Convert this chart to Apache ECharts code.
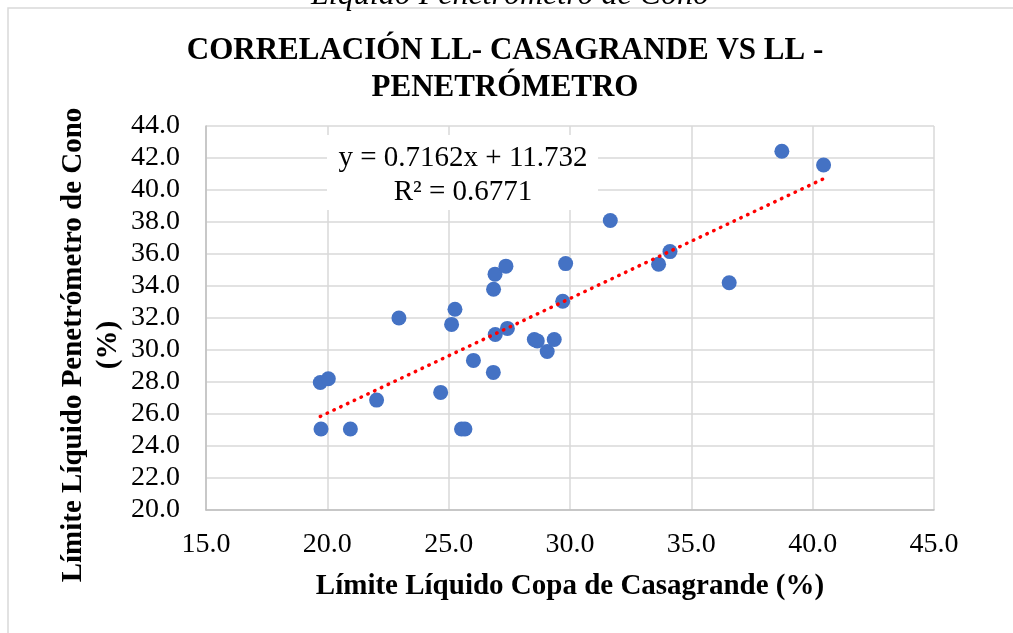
<!DOCTYPE html>
<html>
<head>
<meta charset="utf-8">
<title>Correlación LL Casagrande vs Penetrómetro</title>
<script src="https://cdn.jsdelivr.net/npm/echarts@6/dist/echarts.min.js"></script>
<style>
  html, body { margin: 0; padding: 0; background: #fff; }
  #chart { width: 1013px; height: 633px; }
</style>
</head>
<body>
<div id="chart"></div>
<script>
// LL Casagrande (%) por muestra
const llCasagrande = [
  19.74, 19.71, 20.04, 20.95, 22.03, 22.95, 24.67, 25.12, 25.26, 25.53,
  25.67, 26.02, 26.84, 26.85, 26.91, 26.92, 27.36, 27.42, 28.53, 28.65,
  29.06, 29.35, 29.70, 29.82, 31.66, 33.65, 34.12, 36.56, 38.73, 40.45
];
// LL penetrómetro de cono (%) por muestra
const llPenetrometro = [
  25.06, 27.97, 28.20, 25.06, 26.87, 32.00, 27.35, 31.60, 32.55, 25.06,
  25.06, 29.35, 28.60, 33.80, 34.74, 30.97, 35.24, 31.35, 30.66, 30.57,
  29.91, 30.66, 33.05, 35.40, 38.09, 35.36, 36.15, 34.20, 42.42, 41.56
];
// recta de tendencia de Excel
const slope = 0.7162;
const intercept = 11.732;
const rSquared = 0.6771;

const xTicks = [15, 45, 5];   // min, max, intervalo
const yTicks = [20, 44, 2];

const serif = '"Liberation Serif", "Times New Roman", serif';

const points = llCasagrande.map((x, i) => [x, llPenetrometro[i]]);
const xMin = Math.min(...llCasagrande);
const xMax = Math.max(...llCasagrande);
const trend = [[xMin, slope * xMin + intercept], [xMax, slope * xMax + intercept]];

const chart = echarts.init(document.getElementById('chart'));

chart.setOption({
  animation: false,
  backgroundColor: '#fff',
  title: {
    text: 'CORRELACIÓN LL- CASAGRANDE VS LL -\nPENETRÓMETRO',
    left: 500,
    textAlign: 'center',
    top: 27,
    textStyle: {
      fontFamily: serif,
      fontWeight: 'bold',
      fontSize: 31,
      lineHeight: 37,
      color: '#000'
    }
  },
  grid: { left: 206, right: 79, top: 126, bottom: 123 },
  xAxis: {
    type: 'value',
    min: xTicks[0],
    max: xTicks[1],
    interval: xTicks[2],
    name: 'Límite Líquido Copa de Casagrande (%)',
    nameLocation: 'middle',
    nameGap: 62,
    nameTextStyle: { fontFamily: serif, fontWeight: 'bold', fontSize: 29, color: '#000' },
    axisLine: { show: true, lineStyle: { color: '#bfbfbf', width: 1.5 } },
    axisTick: { show: false },
    axisLabel: {
      margin: 21,
      fontFamily: serif,
      fontSize: 28,
      color: '#000',
      formatter: v => v.toFixed(1)
    },
    splitLine: { show: true, lineStyle: { color: '#d9d9d9', width: 1.5 } }
  },
  yAxis: {
    type: 'value',
    min: yTicks[0],
    max: yTicks[1],
    interval: yTicks[2],
    axisLine: { show: true, lineStyle: { color: '#bfbfbf', width: 1.5 } },
    axisTick: { show: false },
    axisLabel: {
      margin: 26,
      fontFamily: serif,
      fontSize: 28,
      color: '#000',
      formatter: v => v.toFixed(1)
    },
    splitLine: { show: true, lineStyle: { color: '#d9d9d9', width: 1.5 } }
  },
  graphic: [
    {
      type: 'rect',
      shape: { x: 8, y: 8, width: 1020, height: 640 },
      style: { fill: 'none', stroke: '#d9d9d9', lineWidth: 1.5 },
      silent: true
    },
    {
      type: 'text',
      x: 510,
      y: 12,
      style: {
        text: 'Líquido Penetrómetro de Cono',
        font: 'italic 32px ' + serif,
        fill: '#000',
        align: 'center',
        verticalAlign: 'bottom'
      }
    },
    {
      // título del eje Y
      type: 'text',
      x: 91,
      y: 345,
      rotation: Math.PI / 2,
      style: {
        text: 'Límite Líquido Penetrómetro de Cono\n(%)',
        font: 'bold 29px ' + serif,
        lineHeight: 35,
        fill: '#000',
        align: 'center',
        verticalAlign: 'middle'
      }
    },
    {
      type: 'rect',
      z: 10,
      shape: { x: 327, y: 135, width: 271, height: 75 },
      style: { fill: '#fff' }
    },
    {
      type: 'text',
      z: 11,
      x: 463,
      y: 175,
      style: {
        text: 'y = ' + slope + 'x + ' + intercept + '\nR² = ' + rSquared,
        font: '29px ' + serif,
        lineHeight: 34,
        fill: '#000',
        align: 'center',
        verticalAlign: 'middle'
      }
    }
  ],
  series: [
    {
      type: 'scatter',
      data: points,
      symbolSize: 15,
      itemStyle: { color: '#4472C4', opacity: 1 },
      z: 3
    },
    {
      type: 'line',
      data: trend,
      symbol: 'none',
      z: 4,
      lineStyle: { color: '#ff0000', width: 3.5, type: [0.5, 7], cap: 'round' }
    }
  ]
});
</script>
</body>
</html>
